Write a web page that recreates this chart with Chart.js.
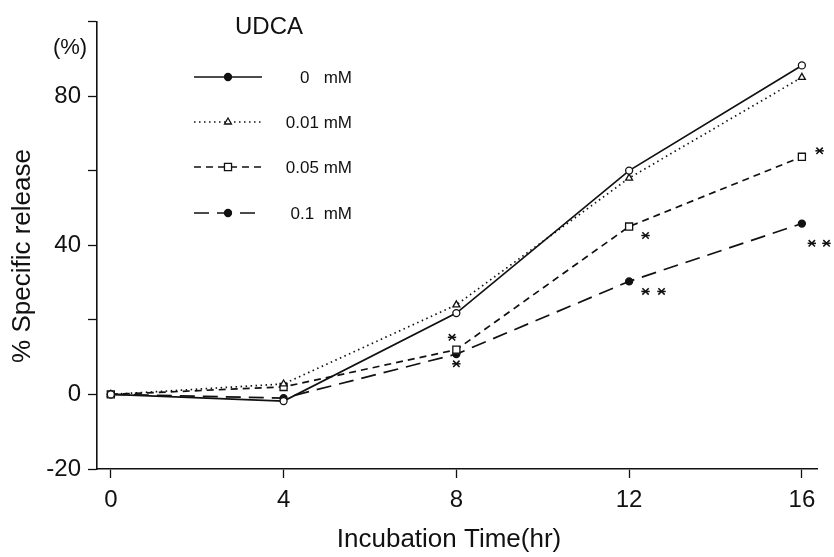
<!DOCTYPE html>
<html>
<head>
<meta charset="utf-8">
<script src="https://cdn.jsdelivr.net/npm/chart.js@4.4.1/dist/chart.umd.min.js"></script>
<style>
  html, body { margin: 0; padding: 0; background: #fff; }
  #wrap { width: 834px; height: 557px; }
</style>
</head>
<body>
<div id="wrap"><canvas id="release" width="834" height="557"></canvas></div>
<script>
// values (% specific release vs hours)
var hours = [0, 4, 8, 12, 16];
var udca0 = [0, -1.8, 21.8, 60, 88.2];
var udca001 = [0, 2.8, 24, 58, 85];
var udca005 = [0, 2, 12, 45, 63.7];
var udca01 = [0, -1, 10.8, 30.3, 45.8];
var seriesLabels = ['0   mM', '0.01 mM', '0.05 mM', '0.1  mM'];

var xTickValues = [0, 4, 8, 12, 16];
var yTickValues = [-20, 0, 20, 40, 60, 80, 100];
var yLabelled = [-20, 0, 40, 80];

// significance asterisks (hour, value)
var starX = [7.9, 8.0, 12.38, 12.38, 12.75, 16.41, 16.23, 16.57];
var starY = [15.3, 8.2, 42.6, 27.6, 27.6, 65.3, 40.5, 40.5];

var ink = '#111';
var fontFamily = '"Liberation Sans", Arial, sans-serif';

function toPoints(xs, ys) {
    return xs.map(function(x, i) { return {x: x, y: ys[i]}; });
}

var series = [
    {data: udca0, dash: [], style: 'circle', radius: 3.5, fill: '#fff', legendFill: ink},
    {data: udca001, dash: [1.5, 3.5], style: 'triangle', radius: 4, fill: '#fff', legendFill: '#fff'},
    {data: udca005, dash: [7, 5], style: 'rect', radius: 5, fill: '#fff', legendFill: '#fff'},
    {data: udca01, dash: [15, 8], style: 'circle', radius: 3.5, fill: ink, legendFill: ink}
];

var datasets = series.map(function(s, i) {
    return {
        label: seriesLabels[i],
        data: toPoints(hours, s.data),
        borderColor: ink,
        borderWidth: 1.7,
        borderDash: s.dash,
        pointStyle: s.style,
        pointRadius: s.radius,
        pointBorderWidth: 1.3,
        pointBackgroundColor: s.fill,
        pointBorderColor: ink,
        showLine: true,
        tension: 0
    };
});

/**
 * Text, asterisks and the hand-made legend box.
 */
var annotationPlugin = {
    id: 'annotations',
    afterDraw: function(chart) {
        var ctx = chart.ctx,
            xScale = chart.scales.x,
            yScale = chart.scales.y;
        ctx.save();

        // asterisks, placed through the scales
        ctx.strokeStyle = ink;
        ctx.lineWidth = 1.5;
        starX.forEach(function(hx, i) {
            var px = xScale.getPixelForValue(hx),
                py = yScale.getPixelForValue(starY[i]);
            Chart.helpers.drawPoint(ctx, {pointStyle: 'crossRot', radius: 4.5, rotation: 0, borderWidth: 1.5}, px, py);
            Chart.helpers.drawPoint(ctx, {pointStyle: 'line', radius: 4.2, rotation: 0, borderWidth: 1.5}, px, py);
        });

        ctx.fillStyle = ink;
        ctx.textBaseline = 'middle';

        ctx.font = '26px ' + fontFamily;
        ctx.textAlign = 'center';
        ctx.fillText('Incubation Time(hr)', 449, 540);

        ctx.save();
        ctx.translate(23, 256);
        ctx.rotate(-Math.PI / 2);
        ctx.fillText('% Specific release', 0, 0);
        ctx.restore();

        ctx.font = '22px ' + fontFamily;
        ctx.fillText('(%)', 70, 48);

        ctx.font = '24px ' + fontFamily;
        ctx.textAlign = 'left';
        ctx.fillText('UDCA', 235, 27);

        var rowsY = [77, 122, 167, 213];
        ctx.font = '17px ' + fontFamily;
        series.forEach(function(s, i) {
            var y = rowsY[i];
            ctx.beginPath();
            ctx.setLineDash(s.dash);
            ctx.lineWidth = 1.7;
            ctx.strokeStyle = ink;
            ctx.moveTo(194, y);
            ctx.lineTo(262, y);
            ctx.stroke();
            ctx.setLineDash([]);
            ctx.fillStyle = s.legendFill;
            ctx.lineWidth = 1.3;
            Chart.helpers.drawPoint(ctx, {pointStyle: s.style, radius: s.radius, rotation: 0, borderWidth: 1.3}, 228, y);
            ctx.fillStyle = ink;
            ctx.textAlign = 'right';
            ctx.fillText(seriesLabels[i], 352, y + 1);
        });
        ctx.restore();
    }
};

new Chart(document.getElementById('release').getContext('2d'), {
    type: 'scatter',
    data: {datasets: datasets},
    options: {
        responsive: false,
        animation: false,
        layout: {padding: {top: 13, right: 17, left: 0, bottom: 0}},
        plugins: {
            legend: {display: false},
            tooltip: {enabled: false}
        },
        scales: {
            x: {
                type: 'linear',
                min: -0.32,
                max: 16.35,
                afterFit: function(scale) { scale.height = 88; },
                afterBuildTicks: function(scale) {
                    scale.ticks = xTickValues.map(function(v) { return {value: v}; });
                },
                grid: {drawOnChartArea: false, drawTicks: true, tickLength: 9, tickColor: ink, tickWidth: 1.3},
                border: {color: ink, width: 1.6},
                ticks: {
                    color: ink,
                    padding: 8,
                    maxRotation: 0,
                    font: {family: fontFamily, size: 24}
                }
            },
            y: {
                type: 'linear',
                min: -20,
                max: 100,
                afterFit: function(scale) { scale.width = 97; },
                afterBuildTicks: function(scale) {
                    scale.ticks = yTickValues.map(function(v) { return {value: v}; });
                },
                grid: {drawOnChartArea: false, drawTicks: true, tickLength: 9, tickColor: ink, tickWidth: 1.3},
                border: {color: ink, width: 1.6},
                ticks: {
                    color: ink,
                    padding: 7,
                    font: {family: fontFamily, size: 24},
                    callback: function(value) {
                        return yLabelled.indexOf(value) >= 0 ? String(value) : '';
                    }
                }
            }
        }
    },
    plugins: [annotationPlugin]
});
</script>
</body>
</html>
